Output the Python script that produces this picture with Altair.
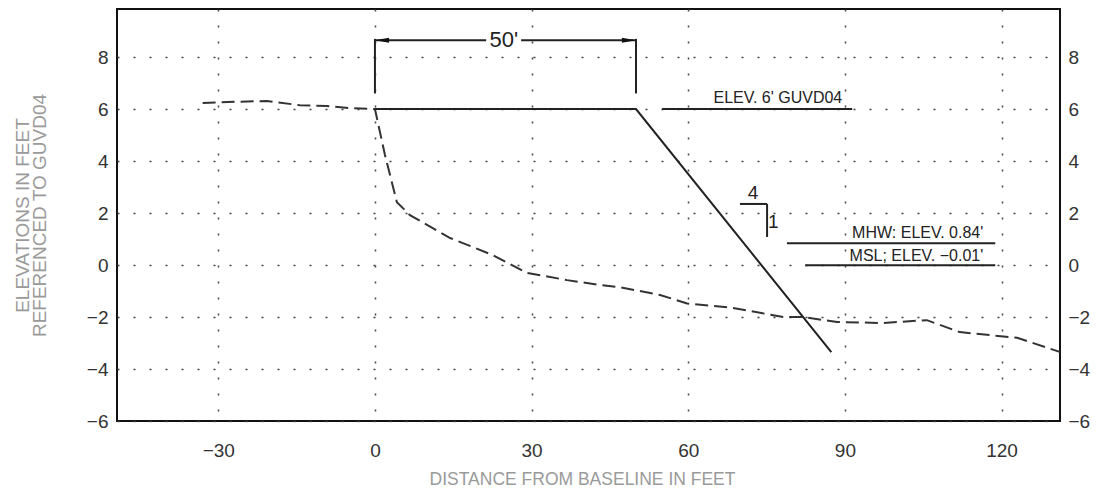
import altair as alt
import pandas as pd

# ---- data ----
# existing ground profile (dashed)
prof_x = [-33, -27, -20.7, -14.4, -9.2, -4.8, 0, 1.9, 4.2, 6.7, 14.4, 22.6, 29.1,
          36.8, 43.1, 46.9, 54.6, 59.8, 68.6, 78.2, 82, 88.5, 97.3, 105.7, 112, 123, 131.3]
prof_y = [6.23, 6.28, 6.31, 6.15, 6.12, 6.04, 6.0, 4.25, 2.42, 1.92, 1.04, 0.38, -0.3,
          -0.58, -0.77, -0.85, -1.15, -1.48, -1.65, -2.0, -2.0, -2.19, -2.23, -2.12, -2.58, -2.8, -3.35]

# design section (solid): 50' crest at elev 6, then 4:1 slope
design_x = [0, 50, 87.4]
design_y = [6, 6, -3.35]

# annotation line segments (dimension, extension, elevation and slope-symbol lines)
seg_x1 = [0, 28.0, 0, 50, 55, 69.9, 75.1, 78.9, 82.4]
seg_x2 = [21.3, 50, 0, 50, 91.4, 75.1, 75.1, 118.8, 118.8]
seg_y1 = [8.65, 8.65, 6.6, 6.6, 6.0, 2.35, 2.35, 0.84, -0.01]
seg_y2 = [8.65, 8.65, 8.7, 8.7, 6.0, 2.35, 1.08, 0.84, -0.01]

# dimension arrowheads
arrow_x = [0, 50]
arrow_y = [8.65, 8.65]
arrow_dir = ["left", "right"]

# elevation notes
note_text = ["ELEV.  6'  GUVD04", "MHW:  ELEV.  0.84'", "MSL;  ELEV.  \u22120.01'"]
note_x = [89.5, 116.5, 116.5]
note_y = [6.23, 1.04, 0.15]

# slope symbol numbers
slope_text = ["4", "1"]
slope_x = [72.4, 76.3]
slope_y = [2.77, 1.65]

# dimension label
dim_text = ["50'"]
dim_x = [24.7]
dim_y = [8.65]

x_ticks = [-30, 0, 30, 60, 90, 120]
y_ticks = [-6, -4, -2, 0, 2, 4, 6, 8]

# ---- tables ----
prof = pd.DataFrame({"x": prof_x, "y": prof_y})
design = pd.DataFrame({"x": design_x, "y": design_y})
segs = pd.DataFrame({"x": seg_x1, "x2": seg_x2, "y": seg_y1, "y2": seg_y2})
paths = {"left": "M0,0L2,-0.35L2,0.35Z", "right": "M0,0L-2,-0.35L-2,0.35Z"}
arrows = pd.DataFrame({"x": arrow_x, "y": arrow_y,
                       "shape": [paths[d] for d in arrow_dir]})
notes = pd.DataFrame({"x": note_x, "y": note_y, "t": note_text})
slopes = pd.DataFrame({"x": slope_x, "y": slope_y, "t": slope_text})
dims = pd.DataFrame({"x": dim_x, "y": dim_y, "t": dim_text})

FONT = "Liberation Sans"
INK = "#222222"

xscale = alt.Scale(domain=[-49.4, 131.2], nice=False, zero=False)
yscale = alt.Scale(domain=[-6, 9.85], nice=False, zero=False)

x_axis = alt.Axis(values=x_ticks, grid=True, gridDash=[2, 14], gridColor="#444444",
                  gridWidth=1.5, domain=False, ticks=False, labelPadding=20,
                  labelFont=FONT, labelFontSize=19, labelColor="#333333",
                  title="DISTANCE FROM BASELINE IN FEET", titleFont=FONT,
                  titleFontSize=17.5, titleFontWeight="normal", titleColor="#9a9a9a",
                  titleBaseline="top", titleY=49, titleX=465)
y_left = alt.Axis(values=y_ticks, grid=True, gridDash=[2, 14], gridColor="#444444",
                  gridWidth=1.5, domain=False, ticks=False, labelPadding=9,
                  labelFont=FONT, labelFontSize=19, labelColor="#333333",
                  title=["ELEVATIONS IN FEET", "REFERENCED TO GUVD04"],
                  titleFont=FONT, titleFontSize=19, titleFontWeight="normal",
                  titleColor="#9a9a9a", titleLineHeight=17, titleX=-85, titleY=206)
y_right = alt.Axis(values=y_ticks, orient="right", grid=False, domain=False,
                   ticks=False, labelPadding=8, labelFont=FONT, labelFontSize=19,
                   labelColor="#333333", title=None)

X = alt.X("x:Q", scale=xscale, axis=x_axis)

profile = alt.Chart(prof).mark_line(
    color="#333333", strokeWidth=2, strokeDash=[13, 6], clip=True
).encode(
    x=X,
    y=alt.Y("y:Q", scale=yscale, axis=y_left),
)

section = alt.Chart(design).mark_line(color=INK, strokeWidth=2).encode(
    x=X,
    y=alt.Y("y:Q", scale=yscale, axis=y_right),
)

rules = alt.Chart(segs).mark_rule(color=INK, strokeWidth=2).encode(
    x=X,
    x2="x2:Q",
    y=alt.Y("y:Q", scale=yscale, axis=None),
    y2="y2:Q",
)

heads = alt.Chart(arrows).mark_point(filled=True, opacity=1, color="#111111", size=200).encode(
    x=X,
    y=alt.Y("y:Q", scale=yscale, axis=None),
    shape=alt.Shape("shape:N", scale=None, legend=None),
)

note_layer = alt.Chart(notes).mark_text(
    font=FONT, fontSize=16, color=INK, align="right", baseline="alphabetic"
).encode(
    x=X,
    y=alt.Y("y:Q", scale=yscale, axis=None),
    text="t:N",
)

slope_layer = alt.Chart(slopes).mark_text(
    font=FONT, fontSize=19, color=INK, align="center", baseline="middle"
).encode(
    x=X,
    y=alt.Y("y:Q", scale=yscale, axis=None),
    text="t:N",
)

dim_layer = alt.Chart(dims).mark_text(
    font=FONT, fontSize=22, color=INK, align="center", baseline="middle"
).encode(
    x=X,
    y=alt.Y("y:Q", scale=yscale, axis=None),
    text="t:N",
)

chart = alt.layer(
    profile, section, rules, heads, note_layer, slope_layer, dim_layer
).resolve_axis(
    y="independent"
).properties(
    width=943,
    height=412,
    autosize=alt.AutoSizeParams(type="none"),
    padding={"left": 109, "top": 1, "right": 34, "bottom": 66},
    background="white",
).configure_view(
    stroke="#111111", strokeWidth=2
)

chart.save("out.html", embed_options={"renderer": "svg", "actions": False})
